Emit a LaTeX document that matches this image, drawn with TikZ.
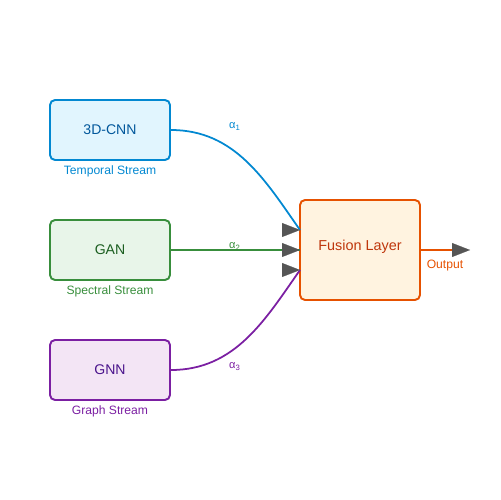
\documentclass[tikz,border=0pt]{standalone}
\usepackage{fontspec}
\setmainfont{Liberation Sans}
\usetikzlibrary{arrows.meta,positioning}
\definecolor{tblue}{HTML}{0288D1}\definecolor{tbluef}{HTML}{E1F5FE}\definecolor{tbluet}{HTML}{01579B}
\definecolor{sgreen}{HTML}{388E3C}\definecolor{sgreenf}{HTML}{E8F5E9}\definecolor{sgreent}{HTML}{1B5E20}
\definecolor{gpurple}{HTML}{7B1FA2}\definecolor{gpurplef}{HTML}{F3E5F5}\definecolor{gpurplet}{HTML}{4A148C}
\definecolor{forange}{HTML}{E65100}\definecolor{forangef}{HTML}{FFF3E0}\definecolor{forranget}{HTML}{BF360C}
\definecolor{tipgray}{HTML}{555555}
\tikzset{
  stream/.style={draw, rounded corners=0.1cm, line width=1.1pt, minimum width=2.4cm, minimum height=1.2cm, font=\fontsize{8}{9}\selectfont},
  lab/.style={font=\fontsize{6.9}{8}\selectfont, inner sep=0pt},
  wlab/.style={font=\fontsize{6.3}{7}\selectfont, inner sep=0pt},
  tip/.style={draw=tipgray, line width=0.1pt, -{Triangle[length=0.36cm, width=0.28cm, color=tipgray, fill=tipgray]}}
}
\begin{document}
\begin{tikzpicture}[x=0.02cm, y=-0.02cm]
\useasboundingbox (0,0) rectangle (500,500);
\node[stream, draw=tblue, fill=tbluef, text=tbluet] (cnn) at (110,130) {3D-CNN};
\node[stream, draw=sgreen, fill=sgreenf, text=sgreent] (gan) at (110,250) {GAN};
\node[stream, draw=gpurple, fill=gpurplef, text=gpurplet] (gnn) at (110,370) {GNN};
\node[lab, text=tblue] (tl) at (110,171.5) {Temporal Stream};
\node[lab, text=sgreen] (sl) at (110,291.5) {Spectral Stream};
\node[lab, text=gpurple] (gl) at (110,411.5) {Graph Stream};
\node[stream, draw=forange, fill=forangef, text=forranget, minimum height=2cm, font=\fontsize{8.2}{10}\selectfont] (fus) at (360,250) {\raisebox{0.2cm}{Fusion Layer}};
\coordinate (in1) at (300,230);
\coordinate (in2) at (300,250);
\coordinate (in3) at (300,270);
\coordinate (out) at (470,250);
\draw[tblue, line width=1pt] (cnn.east) .. controls (235,130) and (265,180) .. (in1);
\draw[sgreen, line width=1pt] (gan.east) -- (in2);
\draw[gpurple, line width=1pt] (gnn.east) .. controls (235,370) and (265,320) .. (in3);
\foreach \i in {1,2,3} \draw[tip] ([xshift=-0.36cm]in\i) -- (in\i);
\draw[forange, line width=1.1pt] (fus.east) -- ([xshift=-0.3cm]out);
\draw[tip] ([xshift=-0.36cm]out) -- (out);
\node[lab, text=forange] (ol) at (445,266) {Output};
\node[wlab, text=tblue] (a1) at (235,126.5) {α\textsubscript{1}};
\node[wlab, text=sgreen] (a2) at (235,246.5) {α\textsubscript{2}};
\node[wlab, text=gpurple] (a3) at (235,366.5) {α\textsubscript{3}};
\end{tikzpicture}
\end{document}
